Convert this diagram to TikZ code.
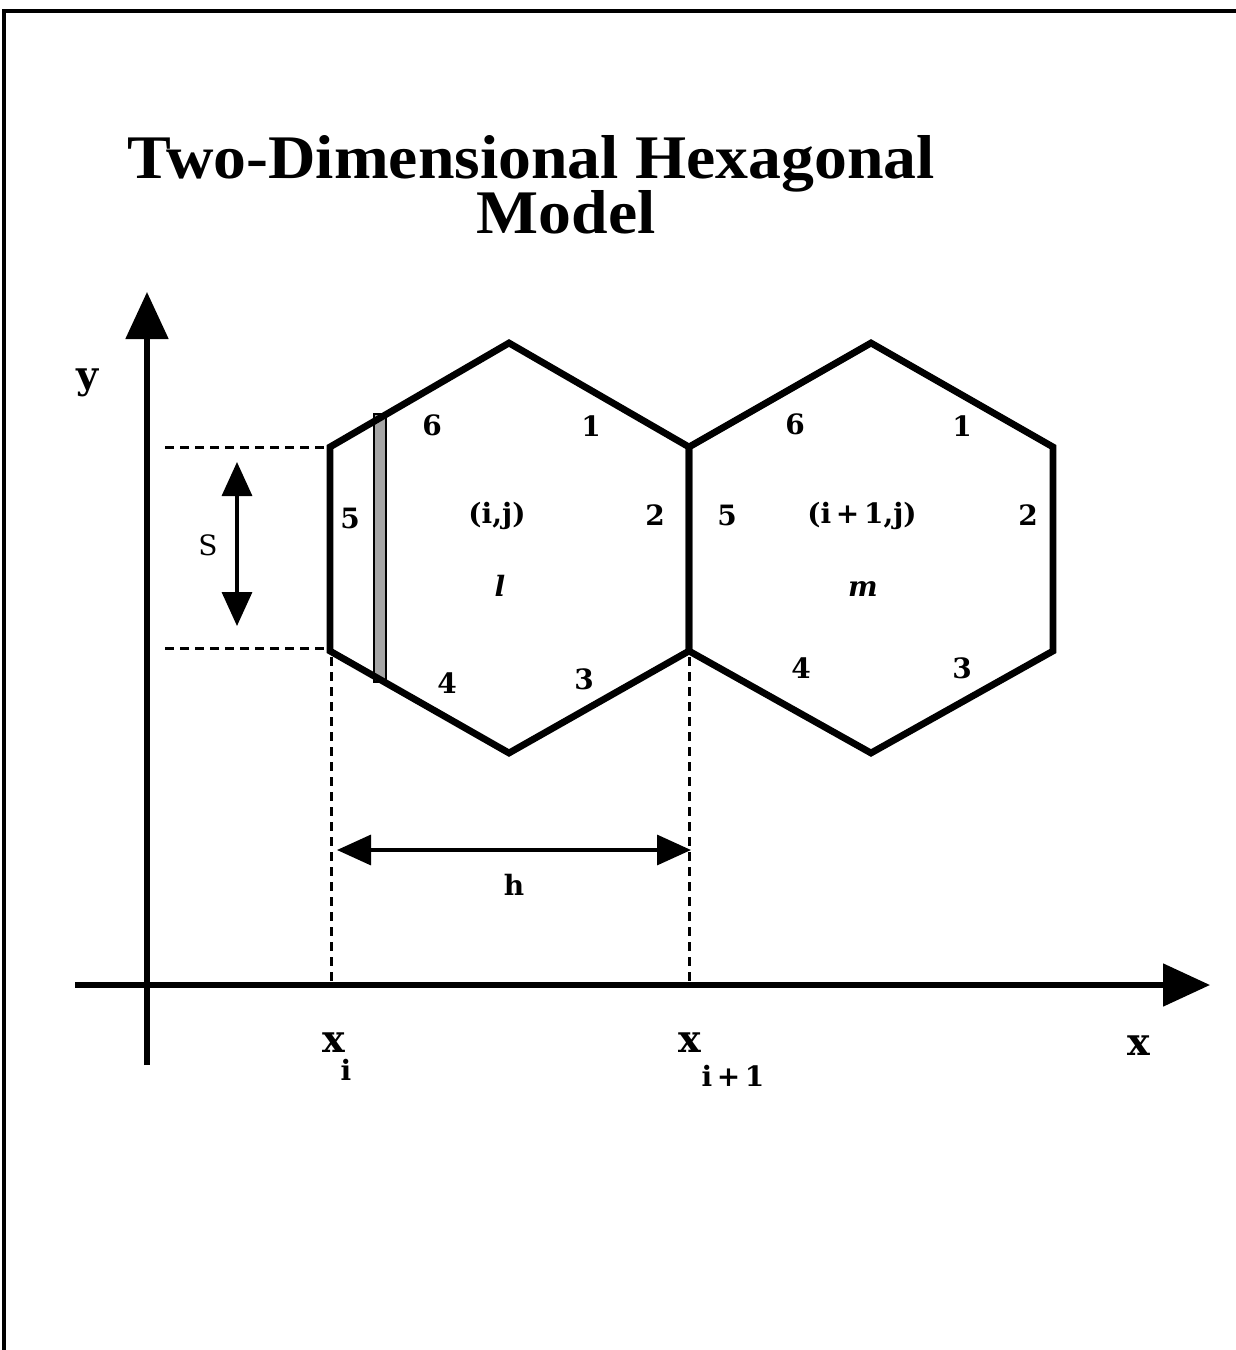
\documentclass[tikz,border=0pt]{standalone}
\usepackage{fontspec}
\setmainfont{DejaVu Serif}
\newfontfamily\titlefont[FakeStretch=1.06]{Liberation Serif}
\usetikzlibrary{arrows.meta}
\begin{document}
\begin{tikzpicture}[x=0.5pt,y=-0.5pt,
  frame/.style={line width=2pt},
  axis/.style={line width=2.6pt,-{Triangle[length=23.5pt,width=21pt]}},
  hexline/.style={line width=3.4pt,line join=miter},
  guide/.style={line width=1.5pt,dash pattern=on 4.5pt off 3pt},
  dimarrow/.style={line width=1.7pt,{Triangle[length=17pt,width=15pt]}-{Triangle[length=17pt,width=15pt]}},
  lab/.style={font=\fontsize{14}{16}\selectfont\bfseries,inner sep=0pt},
  axlab/.style={font=\fontsize{19}{21}\selectfont\bfseries,inner sep=0pt},
  titletext/.style={font=\fontsize{31}{34}\selectfont\titlefont\bfseries,inner sep=0pt,anchor=base}
]
\useasboundingbox (0,0) rectangle (1236,1350);
% frame (top and left only)
\coordinate (fbl) at (4,1350);
\coordinate (ftl) at (4,11);
\coordinate (ftr) at (1236,11);
\draw[frame] (fbl) -- (ftl) -- (ftr);

% title
\node[titletext,text depth=0pt] (t1) at (531,178) {Two-Dimensional Hexagonal};
\node[titletext] (t2) at (566,233) {Model};

% axes
\coordinate (yb) at (147,1065);
\coordinate (yt) at (147,292);
\coordinate (xl) at (75,985);
\coordinate (xr) at (1210,985);
\draw[axis] (yb) -- (yt);
\draw[axis] (xl) -- (xr);
\node[axlab] (ylab) at (88,383) {y};
\node[axlab] (xlab) at (1139,1046) {x};

% hexagon vertices
\coordinate (a1) at (509,343);
\coordinate (a2) at (689,447);
\coordinate (a3) at (689,651);
\coordinate (a4) at (509,753);
\coordinate (a5) at (330,651);
\coordinate (a6) at (330,447);
\coordinate (b1) at (871,343);
\coordinate (b2) at (1053,447);
\coordinate (b3) at (1053,651);
\coordinate (b4) at (871,753);

% shaded strip (face 5 side)
\coordinate (s1) at (374,414);
\coordinate (s2) at (386,682);
\draw[line width=1.2pt,fill=gray!70] (s1) rectangle (s2);

% hexagons
\draw[hexline] (a1) -- (a2) -- (a3) -- (a4) -- (a5) -- (a6) -- cycle;
\draw[hexline] (b1) -- (b2) -- (b3) -- (b4) -- (a3) -- (a2) -- cycle;

% dashed guides
\coordinate (g1) at (165,447);
\coordinate (g2) at (165,648);
\coordinate (g3) at (330,648);
\coordinate (g4) at (331,657);
\coordinate (g5) at (331,985);
\coordinate (g6) at (689,657);
\coordinate (g7) at (689,985);
\draw[guide] (g1) -- (a6);
\draw[guide] (g2) -- (g3);
\draw[guide] (g4) -- (g5);
\draw[guide] (g6) -- (g7);

% S dimension
\coordinate (st) at (237,462);
\coordinate (sb) at (237,626);
\draw[dimarrow] (st) -- (sb);
\node[lab,font=\fontsize{14}{16}\selectfont] (slab) at (208,545) {S};

% h dimension
\coordinate (hl) at (337,850);
\coordinate (hr) at (691,850);
\draw[dimarrow] (hl) -- (hr);
\node[lab] (hlab) at (514,885) {h};

% hexagon 1 labels
\node[lab] (l6) at (432,425) {6};
\node[lab] (l1) at (591,426) {1};
\node[lab] (l2) at (655,515) {2};
\node[lab] (l5) at (350,518) {5};
\node[lab] (l4) at (447,683) {4};
\node[lab] (l3) at (584,679) {3};
\node[lab,anchor=base] (lij) at (497,523) {(i,j)};
\node[lab,anchor=base,font=\fontsize{14}{16}\selectfont\bfseries\itshape] (ll) at (500,596) {l};

% hexagon 2 labels
\node[lab] (m6) at (795,424) {6};
\node[lab] (m1) at (962,426) {1};
\node[lab] (m2) at (1028,515) {2};
\node[lab] (m5) at (727,515) {5};
\node[lab] (m4) at (801,668) {4};
\node[lab] (m3) at (962,668) {3};
\node[lab,anchor=base] (mij) at (862,523) {(i\,+\,1,j)};
\node[lab,anchor=base,font=\fontsize{14}{16}\selectfont\bfseries\itshape] (mm) at (863,596) {m};

% x tick labels
\node[axlab] (xi) at (334,1043) {x};
\node[lab] (xisub) at (346,1070) {i};
\node[axlab] (xi1) at (690,1043) {x};
\node[lab] (xi1sub) at (733,1076) {i\,+\,1};
\end{tikzpicture}
\end{document}
